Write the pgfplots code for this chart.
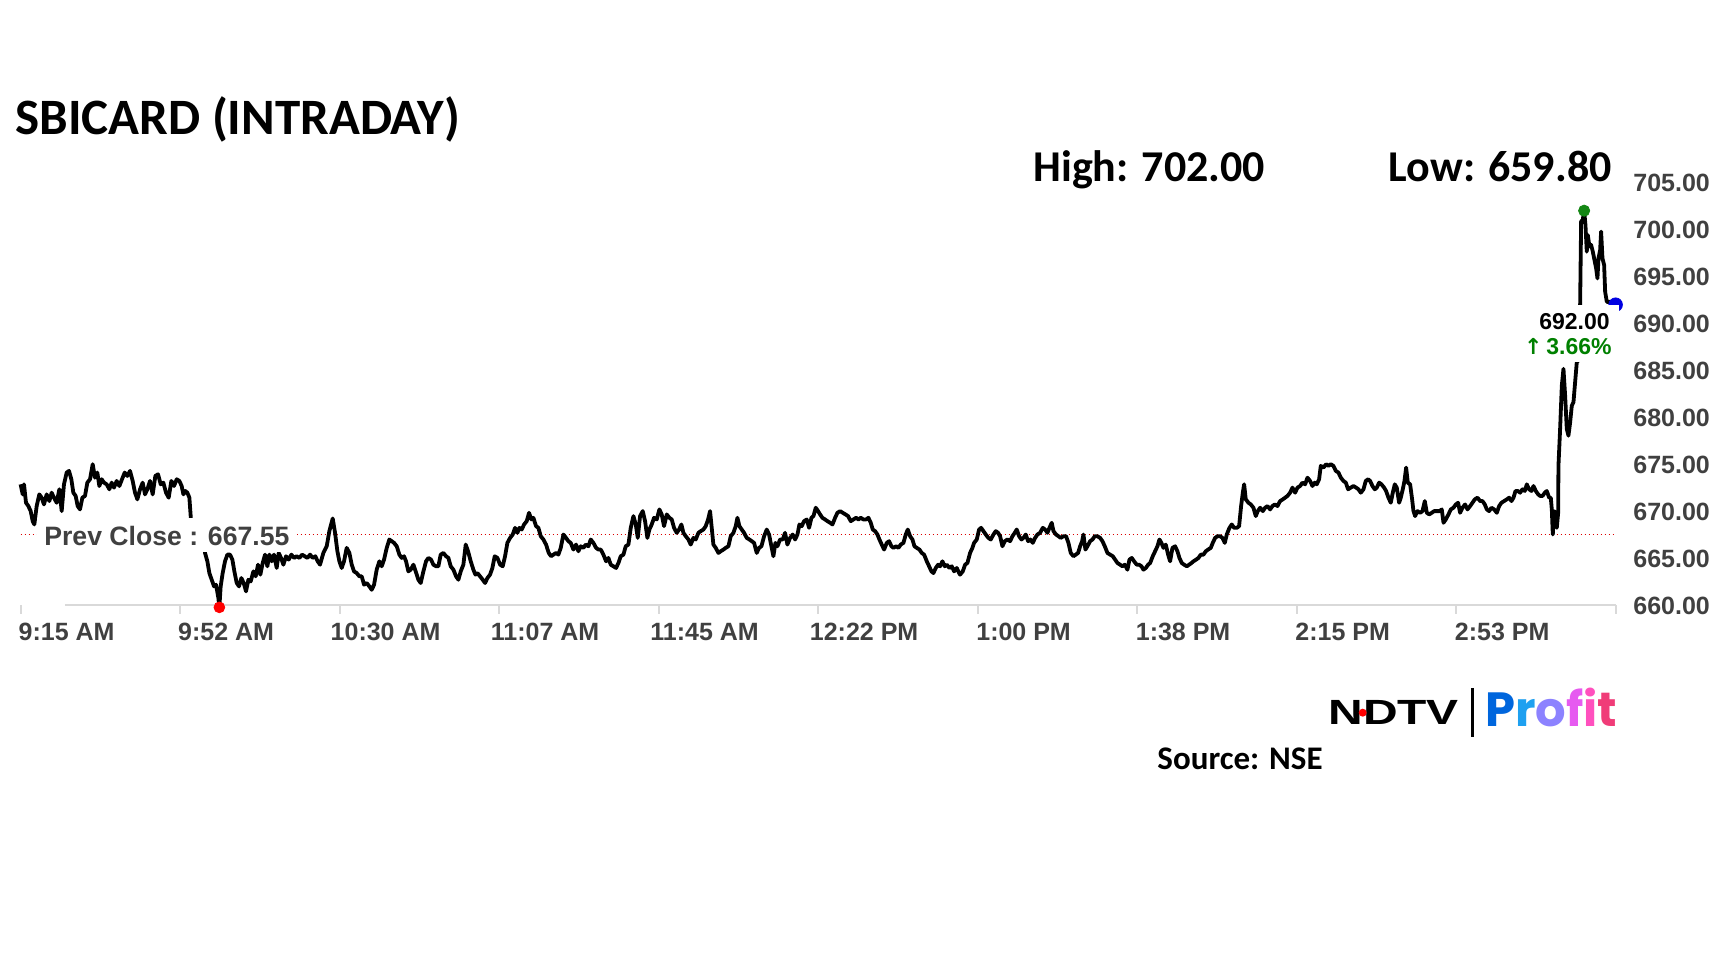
\documentclass[border=0pt]{standalone}
\usepackage{pgfplots}
\pgfplotsset{compat=1.18}
\usepackage{fontspec}
\setmainfont{Liberation Sans}
\newfontfamily\calib{Carlito}
\newfontfamily\arialf{Liberation Sans}
\newfontfamily\popfont{Poppins}
\newfontfamily\dejavu{DejaVu Sans}
\definecolor{labelgray}{RGB}{64,64,64}
\definecolor{basegray}{RGB}{217,217,217}
\definecolor{upgreen}{RGB}{0,128,0}
\definecolor{dotgreen}{RGB}{20,135,20}
\definecolor{prevred}{RGB}{220,0,0}
\definecolor{dotblue}{RGB}{0,0,225}
\definecolor{pP}{RGB}{0,102,221}
\definecolor{pr}{RGB}{30,160,240}
\definecolor{po}{RGB}{140,130,255}
\definecolor{pf}{RGB}{230,90,240}
\definecolor{pi}{RGB}{255,80,190}
\definecolor{pt}{RGB}{240,60,120}
\begin{document}
\begin{tikzpicture}[x=0.5pt,y=0.5pt]
\path[use as bounding box, fill=white] (0,0) rectangle (1728,972);
\begin{axis}[
  at={(10.3pt,183.25pt)}, anchor=south west,
  scale only axis, width=797.5pt, height=211.5pt,
  xmin=0, xmax=375, ymin=660, ymax=705,
  axis line style={draw=none},
  major tick length=0pt,
  xtick={0,37.5,75,112.5,150,187.5,225,262.5,300,337.5,375},
  xticklabels={9:15 AM,9:52 AM,10:30 AM,11:07 AM,11:45 AM,12:22 PM,1:00 PM,1:38 PM,2:15 PM,2:53 PM,{}},
  xtick style={draw=none}, ytick style={draw=none},
  xtick pos=bottom, ytick pos=right, yticklabel pos=right,
  ytick={660,665,670,675,680,685,690,695,700,705},
  yticklabels={660.00,665.00,670.00,675.00,680.00,685.00,690.00,695.00,700.00,705.00},
  xticklabel style={font=\arialf\bfseries\fontsize{12.5}{15}\selectfont, text=labelgray, anchor=north, inner sep=0pt, xshift=23pt, yshift=-8.7pt},
  yticklabel style={font=\arialf\bfseries\fontsize{12.5}{15}\selectfont, text=labelgray, anchor=west, inner sep=0pt, xshift=8.7pt},
  clip=false,
]
\draw[basegray, line width=1pt] (axis cs:10.4,660) -- (axis cs:375,660);
\pgfplotsinvokeforeach{0,37.5,75,112.5,150,187.5,225,262.5,300,337.5,375}{
  \draw[basegray, line width=1pt] (axis cs:#1,660) -- ++(0pt,-4.5pt);
}
\addplot[prevred, line width=0.75pt, dash pattern=on 0.75pt off 1.25pt] coordinates {(0,667.55) (375,667.55)};
\addplot[black, line width=1.9pt, line join=round, mark=none] coordinates {
(0.00,672.89) (0.49,671.82) (0.80,672.89) (1.27,670.93) (1.82,670.58) (2.37,670.04) (2.84,668.97) (3.23,668.62)
(3.78,670.58) (4.40,671.82) (4.95,671.47) (5.50,670.75) (6.13,671.82) (6.76,671.11) (7.30,672.00) (7.85,671.47)
(8.48,670.93) (9.11,672.36) (9.66,670.04) (10.20,672.89) (10.83,674.14) (11.38,674.32) (11.93,673.43) (12.40,672.00)
(12.95,671.65) (13.42,670.58) (13.97,670.22) (14.52,671.47) (15.14,671.65) (15.69,673.07) (16.32,673.43) (16.95,675.03)
(17.49,673.60) (18.04,674.14) (18.51,672.71) (19.06,673.43) (19.61,673.07) (20.24,672.89) (20.87,672.36) (21.41,673.07)
(21.96,672.54) (22.59,673.25) (23.22,672.71) (23.84,673.43) (24.47,674.14) (25.10,673.78) (25.72,674.32) (26.35,673.25)
(26.90,672.00) (27.45,671.29) (28.08,672.36) (28.70,673.07) (29.25,671.82) (29.80,672.36) (30.43,673.25) (31.05,671.82)
(31.68,673.78) (32.31,673.96) (32.94,672.89) (33.56,673.07) (34.19,672.00) (34.82,671.47) (35.44,673.25) (36.07,672.71)
(36.70,673.43) (37.32,673.25) (37.87,672.71) (38.27,671.82) (38.74,672.18) (39.21,672.00) (39.68,671.47) (39.99,669.51)
(40.05,667.60) (43.30,667.40)
(43.36,665.59) (43.91,664.70) (44.38,663.45) (44.93,662.74) (45.48,662.03) (45.95,662.21) (46.50,660.78) (46.73,659.80)
(47.04,662.03) (47.51,663.45) (48.06,664.70) (48.61,665.41) (49.24,665.41) (49.79,664.88) (50.26,663.63) (50.81,662.39)
(51.35,662.03) (51.90,662.92) (52.45,662.39) (53.00,661.50) (53.55,662.74) (54.10,662.56) (54.73,663.63) (55.27,663.10)
(55.82,664.34) (56.37,663.28) (56.92,664.52) (57.47,665.41) (58.02,664.17) (58.49,665.41) (59.04,664.70) (59.58,665.41)
(60.21,663.99) (60.68,665.59) (61.23,665.06) (61.78,664.34) (62.41,665.24) (63.03,664.88) (63.66,665.41) (64.29,665.06)
(64.91,665.24) (65.54,665.06) (66.17,665.41) (66.80,665.24) (67.42,665.06) (68.05,665.41) (68.68,665.06) (69.30,665.24)
(69.85,664.70) (70.40,664.34) (71.18,665.59) (71.97,666.30) (72.59,667.91) (73.38,669.26) (73.93,667.73) (74.48,665.77)
(74.95,664.70) (75.49,663.99) (76.04,664.70) (76.67,666.13) (77.30,665.59) (77.85,664.34) (78.39,663.63) (79.02,663.45)
(79.65,663.10) (80.20,663.10) (80.75,662.21) (81.37,662.39) (82.00,662.03) (82.55,661.67) (83.10,662.21) (83.72,663.81)
(84.35,664.70) (84.90,664.17) (85.45,664.88) (86.08,666.13) (86.70,667.02) (87.25,666.84) (87.80,666.66) (88.43,666.30)
(89.05,665.41) (89.60,665.06) (90.15,665.24) (90.62,664.70) (91.17,663.63) (91.72,663.81) (92.35,664.34) (92.89,663.63)
(93.52,662.74) (94.07,662.39) (94.70,663.63) (95.32,664.70) (95.87,665.06) (96.50,664.88) (97.05,664.34) (97.68,664.17)
(98.22,664.17) (98.77,665.41) (99.40,665.59) (100.03,665.24) (100.58,665.06) (101.12,664.17) (101.75,663.81) (102.38,663.10)
(102.93,662.74) (103.48,663.63) (104.10,664.34) (104.65,666.48) (105.20,665.77) (105.83,664.70) (106.45,663.81) (106.93,663.28)
(107.40,663.45) (108.02,663.10) (108.65,662.74) (109.20,662.39) (109.75,662.92) (110.37,663.28) (110.92,663.99) (111.47,665.24)
(112.10,665.06) (112.73,664.34) (113.35,664.17) (113.90,665.24) (114.45,666.66) (115.08,667.19) (115.70,667.55) (116.25,668.26)
(116.80,667.73) (117.27,668.26) (117.82,668.08) (118.37,668.62) (118.99,668.97) (119.54,669.86) (120.09,669.15) (120.56,669.33)
(121.19,668.44) (121.74,668.26) (122.29,667.37) (122.91,667.02) (123.54,666.48) (124.17,665.59) (124.72,665.24) (125.27,665.41)
(125.89,665.59) (126.44,665.41) (126.99,666.13) (127.62,667.55) (128.24,667.19) (128.79,666.84) (129.34,666.66) (129.97,665.95)
(130.59,666.48) (131.14,665.77) (131.69,666.30) (132.32,666.13) (132.87,666.48) (133.50,666.30) (134.04,667.02) (134.67,666.66)
(135.30,666.13) (135.85,665.95) (136.40,665.95) (137.02,665.41) (137.65,664.70) (138.20,665.06) (138.75,664.34) (139.37,664.17)
(140.00,663.99) (140.55,664.52) (141.10,665.24) (141.73,665.41) (142.27,666.30) (142.90,666.48) (143.45,668.26) (144.08,669.51)
(144.63,668.62) (145.10,667.19) (145.64,669.51) (146.27,670.04) (146.82,668.97) (147.36,667.19) (147.83,668.08) (148.38,668.62)
(148.93,669.33) (149.56,669.15) (150.19,670.22) (150.73,669.69) (151.28,668.44) (151.91,669.69) (152.54,669.33) (153.09,669.15)
(153.63,668.26) (154.26,667.73) (154.81,668.08) (155.36,668.62) (155.83,667.73) (156.38,667.37) (157.01,667.02) (157.55,666.48)
(158.18,667.19) (158.73,667.02) (159.36,667.73) (159.91,667.91) (160.53,668.08) (161.08,668.44) (161.63,669.15) (162.10,670.04)
(162.49,668.26) (162.88,666.48) (163.43,666.13) (164.06,665.59) (164.61,665.77) (165.24,665.95) (165.78,666.13) (166.41,666.30)
(166.96,667.37) (167.59,667.73) (168.13,668.44) (168.53,669.33) (169.00,668.44) (169.55,668.08) (170.09,667.73) (170.72,667.19)
(171.35,667.02) (171.90,666.84) (172.45,666.66) (173.07,665.59) (173.62,666.13) (174.17,666.30) (174.80,667.37) (175.42,668.08)
(175.97,667.55) (176.52,666.30) (176.99,665.24) (177.46,666.66) (177.93,666.30) (178.56,667.02) (179.19,667.02) (179.73,667.73)
(180.28,666.48) (180.91,667.19) (181.54,667.55) (182.09,667.02) (182.64,667.55) (183.11,668.62) (183.65,668.44) (184.20,668.97)
(184.83,669.15) (185.38,668.26) (185.93,669.33) (186.40,669.51) (186.95,670.40) (187.49,670.04) (187.96,669.69) (188.51,669.33)
(189.14,669.15) (189.69,668.97) (190.32,668.80) (190.87,668.62) (191.49,669.33) (192.04,669.86) (192.67,670.04) (193.30,669.86)
(193.92,669.69) (194.55,669.51) (195.18,668.97) (195.80,669.15) (196.43,669.33) (196.98,669.15) (197.53,669.33) (198.15,669.15)
(198.78,669.15) (199.33,669.33) (199.88,668.80) (200.35,668.08) (200.90,667.91) (201.45,667.55) (201.92,667.02) (202.46,666.48)
(203.01,665.95) (203.64,666.66) (204.19,666.84) (204.74,666.30) (205.21,666.13) (205.84,666.30) (206.38,666.13) (206.93,666.48)
(207.56,666.66) (208.11,667.55) (208.58,668.08) (209.13,667.37) (209.68,667.02) (210.15,666.30) (210.70,666.13) (211.32,665.95)
(211.87,665.59) (212.42,665.41) (213.05,664.70) (213.60,664.17) (214.14,663.63) (214.61,663.45) (215.16,663.99) (215.71,664.34)
(216.18,664.17) (216.73,664.70) (217.28,664.17) (217.75,664.34) (218.38,663.99) (218.93,664.17) (219.47,663.63) (220.10,663.99)
(220.65,663.45) (220.88,663.28) (221.51,663.63) (222.06,664.34) (222.60,664.52) (223.23,665.59) (223.78,666.13) (224.17,666.66)
(224.80,667.02) (225.35,668.08) (225.82,668.26) (226.37,667.91) (226.92,667.55) (227.54,667.19) (228.09,667.02) (228.72,667.55)
(229.27,667.91) (229.82,667.73) (230.29,667.37) (230.83,666.30) (231.38,666.84) (232.01,667.02) (232.64,666.84) (233.19,667.37)
(233.73,667.73) (234.20,668.08) (234.75,667.37) (235.30,667.02) (235.77,667.19) (236.32,667.55) (236.87,666.84) (237.42,667.02)
(237.97,666.66) (238.52,667.19) (239.06,667.55) (239.69,667.73) (240.32,668.26) (240.87,668.08) (241.42,667.73) (241.89,668.26)
(242.43,668.80) (242.83,667.91) (243.45,667.55) (244.00,667.37) (244.55,667.19) (245.18,667.37) (245.80,667.37) (246.35,666.66)
(246.90,665.59) (247.53,665.24) (248.08,665.41) (248.63,665.59) (249.10,666.30) (249.57,666.84) (249.88,667.55) (250.35,665.95)
(250.82,666.30) (251.45,666.84) (252.00,667.02) (252.55,667.37) (253.17,667.37) (253.80,667.19) (254.35,666.84) (254.90,666.30)
(255.52,665.59) (256.15,665.41) (256.78,665.24) (257.33,664.88) (257.88,664.52) (258.50,664.34) (259.05,664.17) (259.60,664.34)
(260.23,663.81) (260.70,664.88) (261.25,665.06) (261.79,664.70) (262.42,664.34) (262.97,664.34) (263.52,664.17) (263.99,663.81)
(264.54,663.99) (265.09,664.34) (265.56,664.52) (266.18,665.24) (266.73,665.77) (267.28,666.30) (267.75,667.02) (268.22,666.66)
(268.69,666.13) (269.24,666.48) (269.79,665.41) (270.26,664.70) (270.81,666.13) (271.44,666.30) (271.98,665.77) (272.45,665.06)
(273.00,664.52) (273.55,664.34) (274.18,664.17) (274.73,664.34) (275.28,664.52) (275.75,664.70) (276.37,664.88) (276.92,665.06)
(277.47,665.41) (278.10,665.41) (278.65,665.77) (279.19,665.95) (279.82,666.13) (280.29,666.66) (280.84,667.19) (281.39,667.37)
(282.02,667.37) (282.57,667.19) (283.11,666.66) (283.58,667.55) (284.21,668.26) (284.76,668.62) (285.31,668.26) (285.94,668.26)
(286.48,668.44) (286.95,670.58) (287.35,672.00) (287.66,672.89) (288.05,671.29) (288.68,670.93) (289.23,670.75) (289.85,670.40)
(290.40,669.51) (290.87,670.04) (291.42,670.40) (292.05,670.04) (292.60,670.40) (293.15,670.58) (293.77,670.22) (294.32,670.58)
(294.87,670.75) (295.50,670.58) (296.12,671.11) (296.75,671.29) (297.30,671.47) (297.84,671.65) (298.47,672.00) (299.02,672.54)
(299.65,672.00) (300.20,672.54) (300.82,672.71) (301.37,673.07) (302.00,672.89) (302.55,673.60) (303.17,673.25) (303.72,672.71)
(304.27,673.07) (304.74,672.89) (305.29,673.43) (305.68,674.85) (306.31,674.67) (306.94,675.03) (307.48,674.85) (308.03,675.03)
(308.66,674.85) (309.21,674.32) (309.84,674.14) (310.39,673.60) (311.01,673.25) (311.56,673.07) (312.11,672.36) (312.74,672.54)
(313.36,672.71) (313.99,672.54) (314.54,672.36) (315.09,672.00) (315.72,672.36) (316.26,673.25) (316.81,673.43) (317.28,673.25)
(317.83,672.71) (318.38,672.36) (318.85,672.54) (319.40,673.07) (319.95,672.89) (320.57,672.54) (321.04,672.18) (321.59,671.47)
(322.14,670.93) (322.61,672.00) (323.08,672.89) (323.55,672.54) (324.10,670.93) (324.49,671.47) (324.96,672.36) (325.36,673.25)
(325.75,674.67) (326.14,673.07) (326.69,672.89) (327.16,671.29) (327.47,670.04) (327.86,669.51) (328.41,670.04) (329.04,669.86)
(329.59,670.04) (330.14,671.11) (330.61,669.86) (331.16,669.69) (331.78,669.86) (332.33,670.04) (332.96,670.04) (333.59,670.04)
(334.13,670.22) (334.53,668.80) (335.07,669.15) (335.70,669.69) (336.25,670.22) (336.88,670.40) (337.43,670.75) (337.97,670.93)
(338.44,669.86) (338.99,670.40) (339.62,670.75) (340.17,670.22) (340.80,670.58) (341.34,670.93) (341.89,671.29) (342.52,671.47)
(343.15,671.11) (343.70,671.11) (344.24,670.75) (344.72,670.22) (345.26,670.04) (345.81,670.40) (346.44,670.22) (347.07,669.86)
(347.62,670.58) (348.16,670.93) (348.79,671.11) (349.42,671.29) (349.97,671.47) (350.52,671.11) (350.99,671.47) (351.46,672.18)
(352.00,672.18) (352.55,672.00) (353.10,672.36) (353.65,672.18) (354.12,672.89) (354.67,672.36) (355.22,672.18) (355.69,672.71)
(356.24,672.18) (356.79,671.82) (357.26,671.65) (357.81,671.65) (358.35,672.00) (358.82,672.18) (359.37,671.47) (359.76,671.47)
(360.00,670.22) (360.23,667.55) (360.55,670.04) (360.86,669.86) (361.17,668.26) (361.49,669.86) (361.56,674.85) (361.95,678.77)
(362.35,683.40) (362.74,685.18) (363.13,682.33) (363.52,678.77) (363.91,678.06) (364.31,679.48) (364.70,681.26) (365.09,681.62)
(365.48,683.75) (365.87,685.89) (366.27,686.07) (366.66,692.12) (366.89,700.85) (367.28,701.03) (367.60,702.00) (367.91,700.49)
(368.22,697.64) (368.46,699.42) (368.85,698.18) (369.24,698.36) (369.64,697.64) (370.03,696.75) (370.42,695.86) (370.73,694.79)
(370.97,696.93) (371.36,697.82) (371.59,699.78) (371.91,696.93) (372.30,696.22) (372.54,693.37) (372.93,692.30) (373.55,692.30)
(374.10,692.12) (375.00,692.00)
};
\addplot[only marks, mark=*, mark size=2.7pt, color=red] coordinates {(46.73,659.80)};
\addplot[only marks, mark=*, mark size=2.8pt, color=dotgreen] coordinates {(367.60,702.00)};
\addplot[only marks, mark=*, mark size=3.4pt, color=dotblue] coordinates {(375.00,692.00)};
\end{axis}
% Prev close label
\fill[white] (37,420) rectangle (297,454);
\node[anchor=base west, inner sep=0pt, text=labelgray, font=\arialf\bfseries\fontsize{13.3}{15}\selectfont] at (44,426) {Prev Close : 667.55};
% last price label
\fill[white] (1524,610) rectangle (1619,667);
\node[anchor=base east, inner sep=0pt, text=black, font=\arialf\bfseries\fontsize{11.5}{14}\selectfont] at (1610,642) {692.00};
\node[anchor=base east, inner sep=0pt, text=upgreen, font=\arialf\bfseries\fontsize{11.5}{14}\selectfont] at (1612,617) {{\dejavu\bfseries\fontsize{11}{12}\selectfont ↑}\,3.66\%};
% titles
\node[anchor=base west, inner sep=0pt, font=\calib\bfseries\fontsize{25.5}{30}\selectfont] at (15,837) {SBICARD (INTRADAY)};
\node[anchor=base west, inner sep=0pt, font=\calib\bfseries\fontsize{22}{26}\selectfont] at (1033,790) {High: 702.00};
\node[anchor=base east, inner sep=0pt, font=\calib\bfseries\fontsize{22}{26}\selectfont] at (1612,790) {Low: 659.80};
\node[anchor=base west, inner sep=0pt, font=\calib\bfseries\fontsize{16.5}{20}\selectfont] at (1157,202) {Source: NSE};
% logo
\node[anchor=base west, inner sep=0pt, font=\arialf\bfseries\fontsize{17.5}{20}\selectfont] at (1328,247) {\scalebox{1.37}[1]{NDTV}};
\fill[red] (1362.7,259.3) circle (2pt);
\draw[black, line width=1.5pt] (1472,284) -- (1472,235);
\node[anchor=base west, inner sep=0pt, font=\popfont\bfseries\fontsize{24}{27}\selectfont] at (1485,245) {\textcolor{pP}{P}\textcolor{pr}{r}\textcolor{po}{o}\textcolor{pf}{f}\textcolor{pi}{i}\textcolor{pt}{t}};
\end{tikzpicture}
\end{document}
